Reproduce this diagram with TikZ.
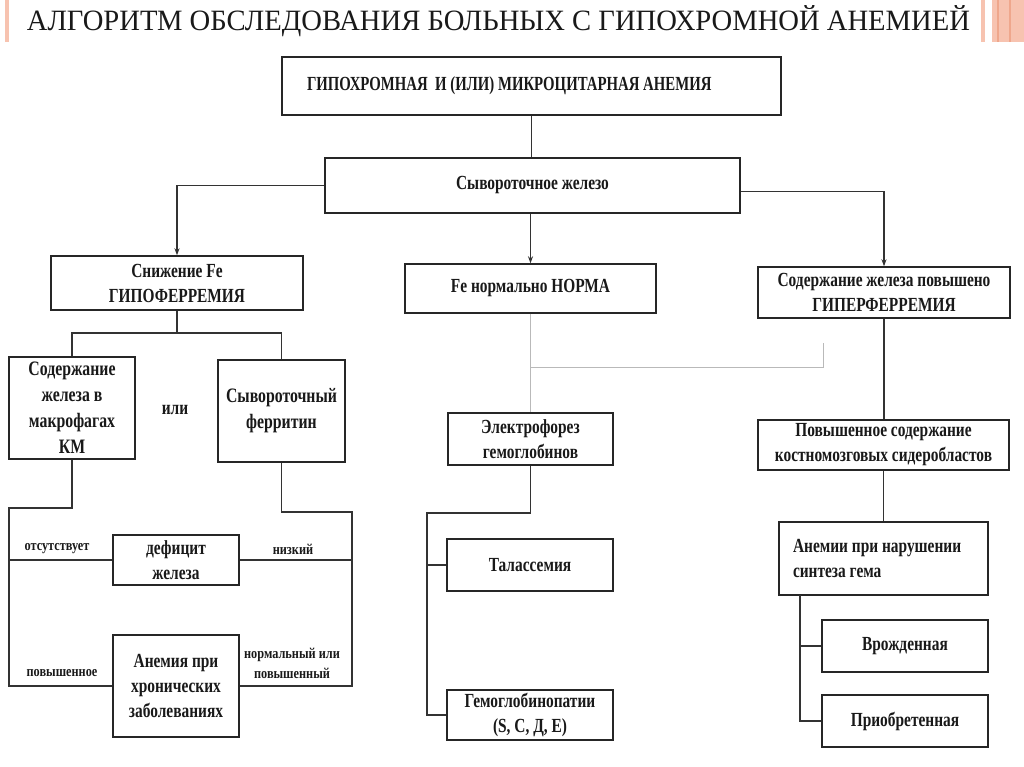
\documentclass[tikz,border=0pt]{standalone}
\usepackage{fontspec}
\setmainfont{Liberation Serif}
\newfontfamily\ttlfont[FakeStretch=0.97]{Liberation Serif}
\newfontfamily\bxfont[FakeStretch=0.77]{Liberation Serif Bold}
\newfontfamily\topfont[FakeStretch=0.74]{Liberation Serif Bold}
\newfontfamily\lbfont[FakeStretch=0.82]{Liberation Serif Bold}
\usetikzlibrary{arrows.meta}
\definecolor{salmon1}{HTML}{F7C3B0}
\definecolor{salmon2}{HTML}{EFA78C}
\tikzset{
  box/.style={draw=black!85, line width=1.4pt, rectangle, inner sep=2pt, align=center,
    font=\bxfont\fontsize{20}{25}\selectfont, text=black!90},
  bigbox/.style={box, font=\bxfont\fontsize{20.5}{26}\selectfont},
  conn/.style={draw=black!80, line width=1.1pt},
  arr/.style={conn, -{Stealth[length=7pt,width=5pt]}},
  gline/.style={draw=gray!55, line width=0.9pt},
  lbl/.style={font=\lbfont\fontsize{15}{20}\selectfont, text=black!90, align=center},
  plain/.style={font=\bxfont\fontsize{20}{25}\selectfont, text=black!90}
}
\begin{document}
\begin{tikzpicture}[x=1pt,y=-1pt]
\useasboundingbox (0,0) rectangle (1024,767);
\fill[white] (0,0) rectangle (1024,767);
% decorations
\fill[salmon1] (5,0) rectangle (9,42);
\fill[salmon1] (981,0) rectangle (985,42);
\fill[salmon1] (992,0) rectangle (1024,42);
\fill[salmon2] (997,0) rectangle (998.5,42);
\fill[salmon2] (1009,0) rectangle (1010.5,42);
% title
\node[anchor=base, font=\ttlfont\fontsize{29.5}{34}\selectfont, text=black!90, inner sep=0pt] (title) at (498.5,31)
  {АЛГОРИТМ ОБСЛЕДОВАНИЯ БОЛЬНЫХ С ГИПОХРОМНОЙ АНЕМИЕЙ};
% boxes
\node[box, font=\topfont\fontsize{20}{25}\selectfont, inner xsep=25pt, text width=449pt, align=flush left, minimum height=58] (top) at (531.5,86) {ГИПОХРОМНАЯ\ \ И (ИЛИ) МИКРОЦИТАРНАЯ АНЕМИЯ};
\node[box, minimum width=415, minimum height=55] (serum) at (532.5,185.5) {Сывороточное железо};
\node[box, minimum width=252, minimum height=54] (low) at (177,283) {Снижение Fe\\ГИПОФЕРРЕМИЯ};
\node[box, minimum width=251, minimum height=49] (norm) at (530.5,288.5) {Fe нормально НОРМА};
\node[box, minimum width=252, minimum height=51] (high) at (884,292.5) {Содержание железа повышено\\ГИПЕРФЕРРЕМИЯ};
\node[bigbox, minimum width=126, minimum height=102] (macro) at (72,408) {Содержание\\железа в\\макрофагах\\КМ};
\node[bigbox, minimum width=127, minimum height=102] (ferr) at (281.5,411) {Сывороточный\\ферритин};
\node[plain] (ili) at (175,410) {или};
\node[box, minimum width=126, minimum height=50] (def) at (176,560) {дефицит\\железа};
\node[box, minimum width=126, minimum height=102] (chron) at (176,686) {Анемия при\\хронических\\заболеваниях};
\node[box, minimum width=165, minimum height=52] (electro) at (530.5,439) {Электрофорез\\гемоглобинов};
\node[box, minimum width=166, minimum height=52] (thal) at (530,565) {Талассемия};
\node[box, minimum width=166, minimum height=50] (hbp) at (530,715) {Гемоглобинопатии\\(S, C, Д, E)};
\node[box, minimum width=251, minimum height=50] (sidero) at (883.5,445) {Повышенное содержание\\костномозговых сидеробластов};
\node[box, inner xsep=14pt, text width=181pt, align=flush left, minimum height=73] (heme) at (883.5,558.5) {Анемии при нарушении\\синтеза гема};
\node[box, minimum width=166, minimum height=52] (congen) at (905,646) {Врожденная};
\node[box, minimum width=166, minimum height=52] (acq) at (905,721) {Приобретенная};
% labels
\node[lbl] (l1) at (57,549) {отсутствует};
\node[lbl] (l2) at (293,549) {низкий};
\node[lbl] (l3) at (62,673) {повышенное};
\node[lbl] (l4) at (292,663) {нормальный или\\повышенный};
% coordinates
\coordinate (lj) at (177,333);
\coordinate (ml) at (9,508);
\coordinate (mr) at (352,512);
\coordinate (ej) at (427,513);
\coordinate (gj) at (530.5,367);
\coordinate (gr) at (823,367);
\coordinate (gt) at (823,343);
\coordinate (hb) at (800,595);
% connectors
\draw[conn] (top.south) -- (top.south |- serum.north);
\draw[arr] (serum.west) -| (low.north);
\draw[arr] (serum.south -| norm.north) -- (norm.north);
\draw[arr] ([yshift=-6pt]serum.east) -| (high.north);
\draw[conn] (low.south) -- (lj);
\draw[conn] (macro.north) |- (lj) -| (ferr.north);
\draw[conn] (macro.south) |- (ml) |- (chron.west);
\draw[conn] (ml |- def.west) -- (def.west);
\draw[conn] (ferr.south) |- (mr) |- (chron.east);
\draw[conn] (mr |- def.east) -- (def.east);
\draw[gline] (norm.south) -- (electro.north);
\draw[gline] (gj) -- (gr) -- (gt);
\draw[conn] (electro.south) |- (ej) |- (hbp.west);
\draw[conn] (ej |- thal.west) -- (thal.west);
\draw[conn] (high.south) -- (high.south |- sidero.north);
\draw[conn] (sidero.south) -- (sidero.south |- heme.north);
\draw[conn] (hb) |- (acq.west);
\draw[conn] (hb |- congen.west) -- (congen.west);
\end{tikzpicture}
\end{document}
